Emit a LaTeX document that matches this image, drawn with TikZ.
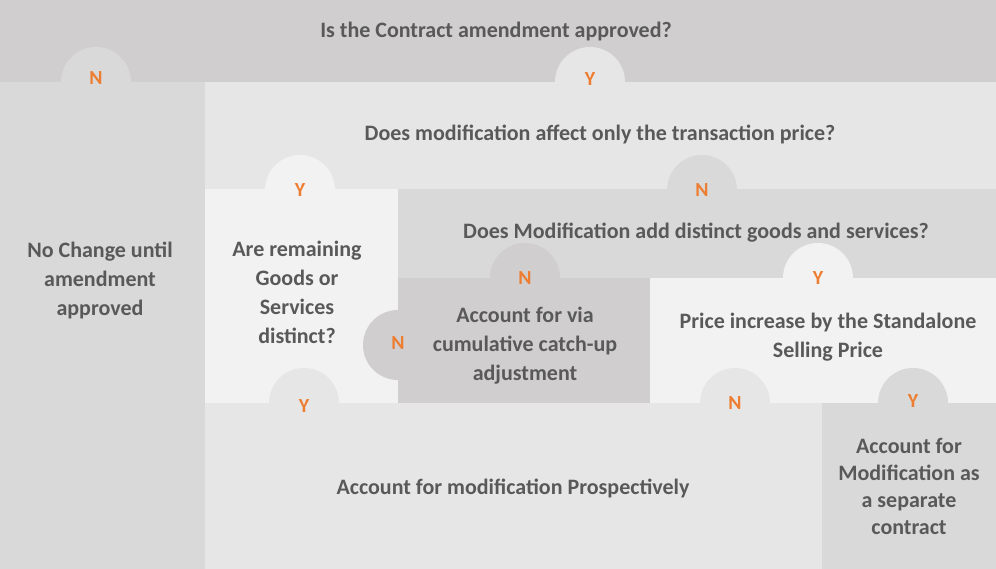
\documentclass[tikz,border=0pt]{standalone}
\usepackage{fontspec}
\setmainfont{Carlito}
\definecolor{cTop}{HTML}{D0CECE}
\definecolor{cMid}{HTML}{D9D9D9}
\definecolor{cLt}{HTML}{E7E6E6}
\definecolor{cWh}{HTML}{F2F2F2}
\definecolor{cDk}{HTML}{D0CECE}
\definecolor{cText}{HTML}{595959}
\definecolor{cOr}{HTML}{ED7D31}
\begin{document}
\begin{tikzpicture}[x=1pt,y=-1pt,
  box/.style={rectangle, draw=none, inner sep=0pt, outer sep=0pt, anchor=north west},
  tab/.style={circle, draw=none, minimum size=70pt, inner sep=0pt},
  lab/.style={text=cOr, inner sep=0pt, font=\fontsize{20}{22}\selectfont\bfseries},
  txt/.style={text=cText, align=center, inner sep=0pt, font=\fontsize{22}{29}\selectfont\bfseries},
  txtb/.style={txt, font=\fontsize{22}{27}\selectfont\bfseries}
]
\useasboundingbox (0,0) rectangle (996,569);
% boxes
\node[box, fill=cTop, minimum width=996pt, minimum height=82pt] (q1) at (0,0) {};
\node[box, fill=cMid, minimum width=205pt, minimum height=487pt] (nochange) at (0,82) {};
\node[box, fill=cLt, minimum width=791pt, minimum height=107pt] (q2) at (205,82) {};
\node[box, fill=cWh, minimum width=193pt, minimum height=214pt] (q3) at (205,189) {};
\node[box, fill=cMid, minimum width=598pt, minimum height=89pt] (q4) at (398,189) {};
\node[box, fill=cDk, minimum width=252pt, minimum height=125pt] (catch) at (398,278) {};
\node[box, fill=cWh, minimum width=346pt, minimum height=125pt] (q5) at (650,278) {};
\node[box, fill=cLt, minimum width=617pt, minimum height=166pt] (prosp) at (205,403) {};
\node[box, fill=cMid, minimum width=174pt, minimum height=166pt] (sep) at (822,403) {};
% tabs
\node[tab, fill=cMid] (t1) at (96,82) {};
\node[tab, fill=cLt] (t2) at (590,82) {};
\node[tab, fill=cWh] (t3) at (300,190) {};
\node[tab, fill=cMid] (t4) at (702,190) {};
\node[tab, fill=cDk] (t5) at (525,278) {};
\node[tab, fill=cDk] (t6) at (398,345) {};
\node[tab, fill=cWh] (t7) at (818,278) {};
\node[tab, fill=cLt] (t8) at (304,403) {};
\node[tab, fill=cLt] (t9) at (735,403) {};
\node[tab, fill=cMid] (t10) at (913,403) {};
\foreach \t/\l/\dy in {t1/N/4,t2/Y/3,t3/Y/0,t4/N/0,t5/N/0,t6/N/2,t7/Y/0,t8/Y/-3,t9/N/0,t10/Y/2}
  \node[lab] (l\t) at ([yshift=\dy pt]\t.center) {\l};
% texts
\node[txt] (x1) at (496,32) {Is the Contract amendment approved?};
\node[txt] (x2) at (600,134) {Does modification affect only the transaction price?};
\node[txt] (x3) at (696,233) {Does Modification add distinct goods and services?};
\node[txt] (x4) at (100,280) {No Change until\\amendment\\approved};
\node[txt] (x5) at (297,292) {Are remaining\\Goods or\\Services\\distinct?};
\node[txt] (x6) at (525,346) {Account for via\\cumulative catch-up\\adjustment};
\node[txt] (x7) at (828,337) {Price increase by the Standalone\\Selling Price};
\node[txt] (x8) at (513,488) {Account for modification Prospectively};
\node[txtb] (x9) at (909,486) {Account for\\Modification as\\a separate\\contract};
\end{tikzpicture}
\end{document}
